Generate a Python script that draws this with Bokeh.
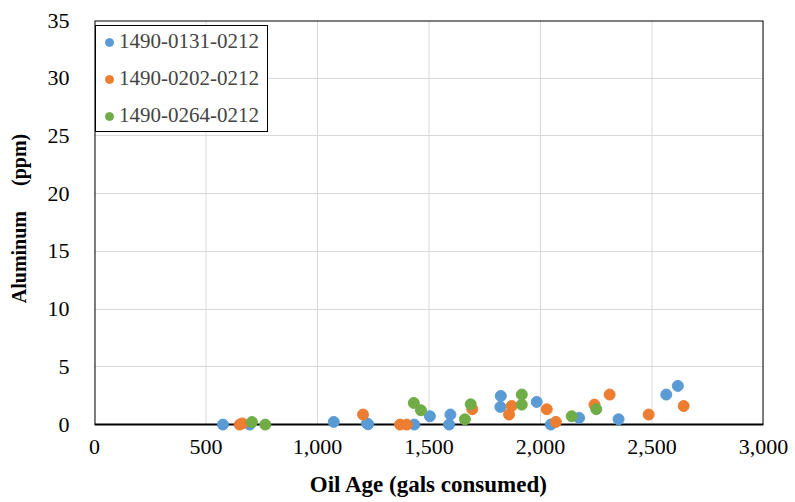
from bokeh.plotting import figure
from bokeh.models import Legend, LegendItem, NumeralTickFormatter, FixedTicker, Range1d
from bokeh.embed import file_html
from bokeh.resources import INLINE

series_names = ["1490-0131-0212", "1490-0202-0212", "1490-0264-0212"]
colors = ["#5B9BD5", "#ED7D31", "#70AD47"]

x_0131 = [576, 696, 1073, 1222, 1227, 1434, 1504, 1590, 1596, 1820, 1822, 1983, 2046, 2173, 2350, 2564, 2616]
y_0131 = [0, 0, 0.23, 0.1, 0.03, 0, 0.72, 0, 0.87, 1.53, 2.48, 1.96, 0, 0.58, 0.46, 2.6, 3.35]

x_0202 = [651, 663, 1204, 1370, 1400, 1694, 1859, 1871, 2028, 2069, 2242, 2310, 2485, 2642]
y_0202 = [0, 0.1, 0.87, 0, 0, 1.33, 0.87, 1.61, 1.33, 0.23, 1.73, 2.6, 0.87, 1.61]

x_0264 = [706, 766, 1432, 1464, 1661, 1687, 1916, 1916, 2140, 2250]
y_0264 = [0.22, 0, 1.87, 1.24, 0.46, 1.76, 2.6, 1.73, 0.72, 1.33]

x_ticks = [0, 500, 1000, 1500, 2000, 2500, 3000]
y_ticks = [0, 5, 10, 15, 20, 25, 30, 35]

FONT = "Liberation Serif"
X_MIN, X_MAX = 0, 3000
Y_MIN, Y_MAX = 0, 35
Y_PAD = 0.6  # room below zero so markers at zero are not clipped

p = figure(width=795, height=502, output_backend="svg", toolbar_location=None,
           x_range=Range1d(X_MIN, X_MAX), y_range=Range1d(Y_MIN - Y_PAD, Y_MAX),
           min_border_left=94, min_border_right=32, min_border_top=20, min_border_bottom=71)

p.outline_line_color = None

for ax in (p.xaxis[0], p.yaxis[0]):
    ax.major_tick_line_color = None
    ax.minor_tick_line_color = None
    ax.axis_line_color = None
    ax.major_label_text_font = FONT
    ax.major_label_text_font_size = "22px"
    ax.major_label_text_color = "black"
    ax.axis_label_text_font = FONT
    ax.axis_label_text_font_style = "bold"
    ax.axis_label_text_color = "black"

p.xaxis.axis_label_text_font_size = "23px"
p.yaxis.axis_label_text_font_size = "20px"
p.xaxis.ticker = FixedTicker(ticks=x_ticks)
p.yaxis.ticker = FixedTicker(ticks=y_ticks)
p.xaxis.formatter = NumeralTickFormatter(format="0,0")
p.xaxis.axis_label = "Oil Age (gals consumed)"
p.yaxis.axis_label = "\u00a0\u00a0\u00a0Aluminum\u00a0\u00a0\u00a0\u00a0\u00a0(ppm)"
p.xaxis.major_label_standoff = 2
p.yaxis.major_label_standoff = 19
p.xaxis.axis_label_standoff = 15
p.yaxis.axis_label_standoff = 15

p.xgrid.grid_line_color = None
p.ygrid.grid_line_color = "#D9D9D9"

# vertical gridlines limited to the data area
p.segment(x0=x_ticks, y0=[Y_MIN] * len(x_ticks), x1=x_ticks, y1=[Y_MAX] * len(x_ticks),
          line_color="#D9D9D9", line_width=1, level="underlay")

# plot frame (edges at range limits; zero line drawn full width)
p.quad(left=[X_MIN], right=[X_MAX], bottom=[Y_MIN], top=[Y_MAX],
       fill_color=None, line_color="black", line_width=2)

items = []
for name, c, xs, ys in zip(series_names, colors, [x_0131, x_0202, x_0264], [y_0131, y_0202, y_0264]):
    r = p.scatter(xs, ys, size=11, color=c, line_color=c)
    items.append(LegendItem(label=name, renderers=[r]))

legend = Legend(items=items, location=(1, 299), border_line_color="black", border_line_width=1,
                border_line_alpha=1.0,
                background_fill_color="white", background_fill_alpha=1.0,
                label_text_font=FONT, label_text_font_size="21px", label_height=25, label_width=145,
                glyph_width=20, glyph_height=20, label_standoff=0, spacing=12, padding=3, margin=0)
p.add_layout(legend, "center")

open("out.html", "w").write(file_html(p, INLINE))
